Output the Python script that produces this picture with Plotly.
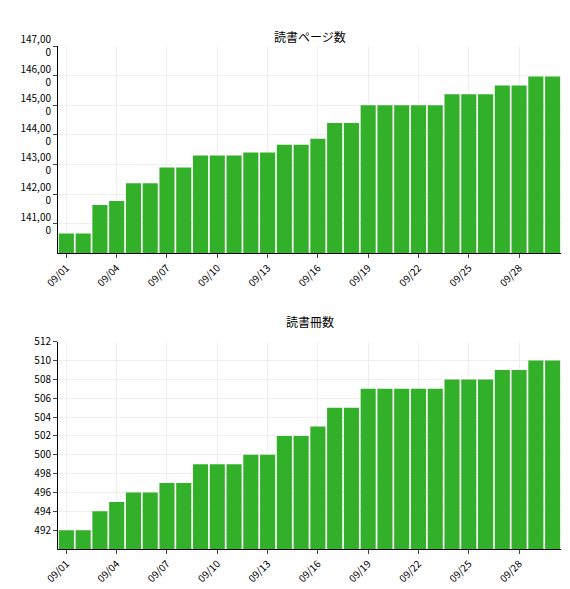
import plotly.graph_objects as go
from plotly.subplots import make_subplots

days = ["09/%02d" % d for d in range(1, 31)]
pages = [140667, 140667, 141633, 141767, 142367, 142367, 142900, 142900, 143300, 143300,
         143300, 143400, 143400, 143667, 143667, 143867, 144400, 144400, 145000, 145000,
         145000, 145000, 145000, 145367, 145367, 145367, 145667, 145667, 145967, 145967]
books = [492, 492, 494, 495, 496, 496, 497, 497, 499, 499, 499, 500, 500, 502, 502,
         503, 505, 505, 507, 507, 507, 507, 507, 508, 508, 508, 509, 509, 510, 510]
page_ticks = [141000, 142000, 143000, 144000, 145000, 146000, 147000]
book_ticks = list(range(492, 513, 2))

fig = make_subplots(rows=2, cols=1)
green = "#33b02a"
fig.add_trace(go.Bar(x=days, y=pages, marker=dict(color=green, line=dict(width=0))), row=1, col=1)
fig.add_trace(go.Bar(x=days, y=books, marker=dict(color=green, line=dict(width=0))), row=2, col=1)

xcommon = dict(type="category", tickvals=days[::3], tickangle=-45, showline=True,
               linecolor="black", ticks="outside", ticklen=4, showgrid=True,
               gridcolor="#eeeeee", tickfont=dict(size=10))
fig.update_xaxes(domain=[0, 1], **xcommon)
fig.update_yaxes(showline=True, linecolor="black", ticks="outside", ticklen=4,
                 gridcolor="#eeeeee", tickfont=dict(size=10), zeroline=False)
fig.update_yaxes(range=[140000, 147000], tickvals=page_ticks,
                 ticktext=[("%d" % v)[:3] + "," + ("%d" % v)[3:5] + "<br>" + " " * 8 + ("%d" % v)[5:] for v in page_ticks],
                 row=1, col=1)
fig.update_yaxes(range=[490, 512], tickvals=book_ticks, row=2, col=1)
fig.update_layout(
    width=570, height=589,
    margin=dict(l=50, r=17, t=38, b=41),
    yaxis=dict(domain=[0.588, 1]),
    yaxis2=dict(domain=[0, 0.412]),
    plot_bgcolor="white", paper_bgcolor="white",
    showlegend=False, bargap=0.1,
    font=dict(family="Noto Sans CJK JP", color="black"),
    annotations=[
        dict(text="読書ページ数", x=0.5, y=1, xref="paper", yref="paper", yshift=20,
             showarrow=False, font=dict(size=12)),
        dict(text="読書冊数", x=0.5, y=0.412, xref="paper", yref="paper", yshift=20,
             showarrow=False, font=dict(size=12)),
    ],
)
fig.write_html("out.html")
